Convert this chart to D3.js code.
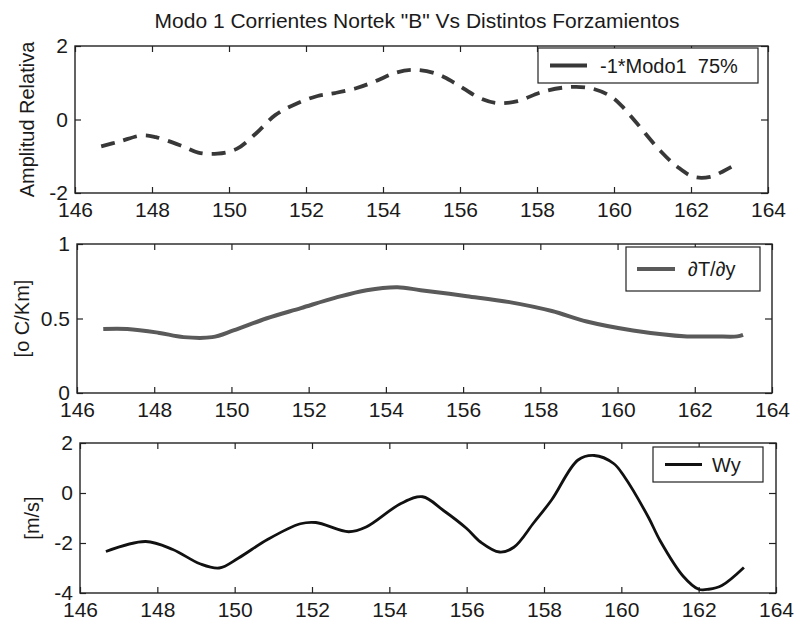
<!DOCTYPE html>
<html><head><meta charset="utf-8">
<script src="https://cdn.jsdelivr.net/npm/d3@7"></script>
<style>
body{margin:0;background:#fff}
svg{display:block;background:#fff}
text{font-family:"Liberation Sans",Arial,sans-serif;fill:#1a1a1a}
</style>
</head><body>
<svg id="c" width="796" height="626"></svg>
<script>
// ---- data ----
const titleText = 'Modo 1 Corrientes Nortek "B" Vs Distintos Forzamientos';
const xTicks = [146,148,150,152,154,156,158,160,162,164];

const modoX = [146.68,147.15,147.75,148.1,148.8,149.2,149.7,150.2,150.7,151.2,151.75,152.3,152.75,153.3,153.8,154.35,154.83,155.4,155.9,156.5,156.95,157.5,158.1,158.8,159.4,159.9,160.2,160.6,161.2,161.65,162.07,162.5,162.85,163.2];
const modoY = [-0.73,-0.6,-0.43,-0.48,-0.73,-0.9,-0.93,-0.8,-0.38,0.12,0.43,0.64,0.72,0.85,1.04,1.28,1.35,1.24,0.97,0.59,0.45,0.5,0.74,0.88,0.85,0.64,0.37,-0.11,-0.85,-1.29,-1.56,-1.56,-1.4,-1.2];
const modoTicksY = [-2,0,2];

const dTdyX = [146.68,147.3,148.1,148.76,149.5,150.05,150.9,151.8,152.7,153.5,154.3,154.9,156.1,157.2,158.3,159.2,160.4,161.8,162.5,163.1,163.25];
const dTdyY = [0.43,0.43,0.405,0.375,0.375,0.42,0.5,0.57,0.64,0.69,0.71,0.69,0.65,0.61,0.55,0.48,0.42,0.38,0.38,0.38,0.39];
const dTdyTicksY = [0,0.5,1];

const wyX = [146.67,147.7,148.4,149.1,149.6,150.1,150.85,151.7,152.1,152.95,153.4,154.3,154.86,155.4,156.0,156.36,156.85,157.22,157.74,158.2,158.88,159.3,159.8,160.08,160.7,161.0,161.6,162.0,162.26,162.6,163.17];
const wyY = [-2.34,-1.94,-2.26,-2.83,-3.0,-2.6,-1.86,-1.23,-1.18,-1.55,-1.36,-0.42,-0.15,-0.7,-1.42,-1.96,-2.36,-2.17,-1.18,-0.27,1.32,1.5,1.18,0.65,-0.97,-1.9,-3.33,-3.85,-3.85,-3.7,-2.98];
const wyTicksY = [-4,-2,0,2];

const legendLabels = ["-1*Modo1  75%", "\u2202T/\u2202y", "Wy"];
const yLabels = ["Amplitud Relativa", "[o C/Km]", "[m/s]"];

// ---- layout ----
const panels = [
  {l:75, r:768, t:46, b:193, dom:[-2,2], ticks:modoTicksY, xs:modoX, ys:modoY,
   color:"#383838", sw:3.8, dash:"14,9", ylx:27, leg:{x0:538,x1:758,y0:48,y1:83,lx0:550,lx1:587,tx:600}},
  {l:77, r:772, t:244, b:393, dom:[0,1], ticks:dTdyTicksY, xs:dTdyX, ys:dTdyY,
   color:"#5a5a5a", sw:4, dash:null, ylx:22, leg:{x0:626,x1:760,y0:247,y1:291,lx0:637,lx1:675,tx:688}},
  {l:80, r:776, t:443, b:593, dom:[-4,2], ticks:wyTicksY, xs:wyX, ys:wyY,
   color:"#111", sw:2.8, dash:null, ylx:32, leg:{x0:653,x1:763,y0:447,y1:482,lx0:665,lx1:702,tx:712}}
];

const svg = d3.select("#c");
svg.append("text").attr("x",417).attr("y",28).attr("text-anchor","middle")
  .style("font-size","21px").text(titleText);

panels.forEach((p,i)=>{
  const x = d3.scaleLinear().domain([146,164]).range([p.l,p.r]);
  const y = d3.scaleLinear().domain(p.dom).range([p.b,p.t]);
  const g = svg.append("g");

  const fmt = d => String(d);
  const bottom = g.append("g").attr("transform",`translate(0,${p.b})`)
    .call(d3.axisBottom(x).tickValues(xTicks).tickFormat(fmt).tickSizeInner(-6).tickSizeOuter(0).tickPadding(9));
  const top = g.append("g").attr("transform",`translate(0,${p.t})`)
    .call(d3.axisTop(x).tickValues(xTicks).tickFormat("").tickSizeInner(-6).tickSizeOuter(0));
  const left = g.append("g").attr("transform",`translate(${p.l},0)`)
    .call(d3.axisLeft(y).tickValues(p.ticks).tickFormat(fmt).tickSizeInner(-6).tickSizeOuter(0).tickPadding(7));
  const right = g.append("g").attr("transform",`translate(${p.r},0)`)
    .call(d3.axisRight(y).tickValues(p.ticks).tickFormat("").tickSizeInner(-7).tickSizeOuter(0));
  [bottom,top,left,right].forEach(a=>{
    a.select(".domain").remove();
    a.selectAll("line").attr("stroke","#222").attr("stroke-width",1.2);
    a.selectAll("text").style("font-size","21px").attr("fill","#1a1a1a");
  });

  g.append("rect").attr("x",p.l).attr("y",p.t).attr("width",p.r-p.l).attr("height",p.b-p.t)
    .attr("fill","none").attr("stroke","#222").attr("stroke-width",1.4);

  const line = d3.line().x((d,k)=>x(p.xs[k])).y(d=>y(d)).curve(d3.curveCatmullRom.alpha(0.5));
  const path = g.append("path").datum(p.ys).attr("d",line).attr("fill","none")
    .attr("stroke",p.color).attr("stroke-width",p.sw).attr("stroke-linejoin","round");
  if(p.dash) path.attr("stroke-dasharray",p.dash);

  // y label
  g.append("text").attr("transform",`translate(${p.ylx},${(p.t+p.b)/2}) rotate(-90)`)
    .attr("text-anchor","middle").attr("dy","0.35em").style("font-size","20px").text(yLabels[i]);

  // legend
  const L = p.leg;
  g.append("rect").attr("x",L.x0).attr("y",L.y0).attr("width",L.x1-L.x0).attr("height",L.y1-L.y0)
    .attr("fill","#fff").attr("stroke","#222").attr("stroke-width",1.2);
  const ly = (L.y0+L.y1)/2;
  g.append("line").attr("x1",L.lx0).attr("x2",L.lx1).attr("y1",ly).attr("y2",ly)
    .attr("stroke",p.color).attr("stroke-width",p.sw);
  g.append("text").attr("x",L.tx).attr("y",ly).attr("dy","0.35em").style("font-size","20px")
    .style("white-space","pre").attr("xml:space","preserve").text(legendLabels[i]);
});
</script>
</body></html>
